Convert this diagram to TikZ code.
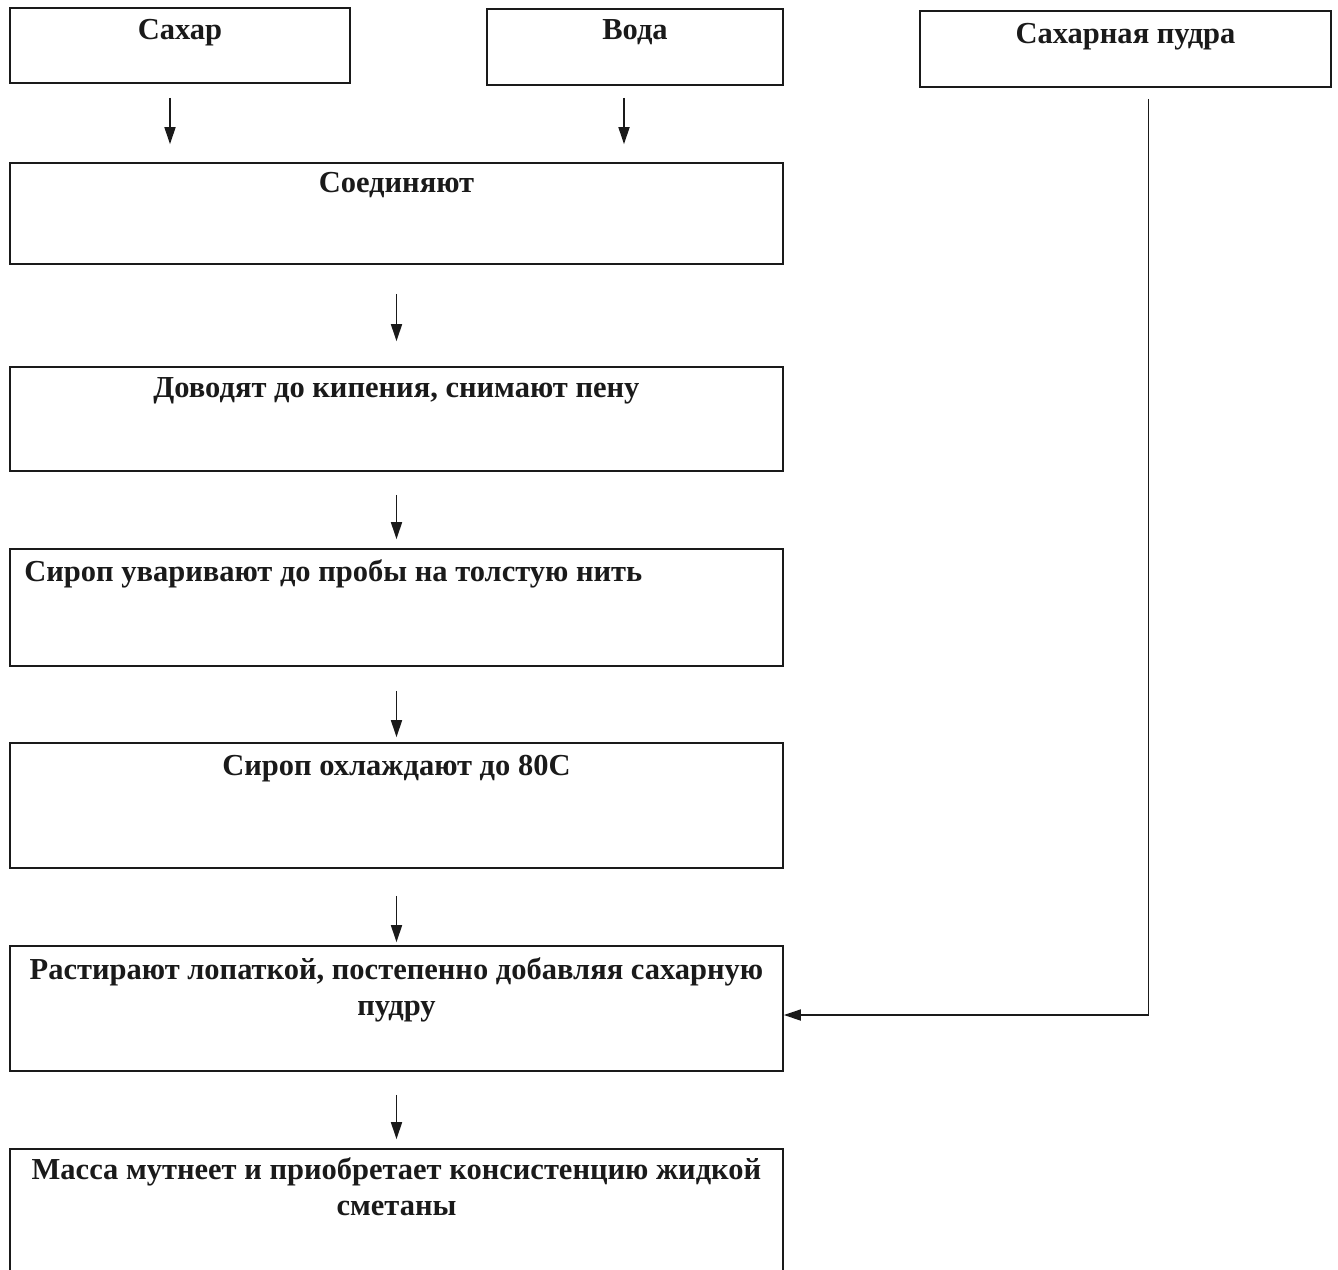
\documentclass[tikz,border=0pt]{standalone}
\usepackage{fontspec}
\setmainfont{Liberation Serif}
\usetikzlibrary{arrows.meta,positioning,calc}
\definecolor{ink}{HTML}{1A1A1A}

\begin{document}
\begin{tikzpicture}[
    x=1pt, y=-1pt,
    >={Triangle[length=17pt,width=11pt]},
    font=\fontsize{30.5}{36}\selectfont\bfseries,
    box/.style={draw=ink, line width=1.7pt, rectangle, inner sep=0pt},
    txt/.style={inner sep=0pt, anchor=base, text=ink, align=center},
    flow/.style={->, draw=ink, line width=1.7pt},
  ]
\clip (0,0) rectangle (1338,1269);

% raw materials
\node[box, minimum width=340pt, minimum height=75pt] (sugar) at (180,45.5) {};
\node[box, minimum width=296pt, minimum height=76pt] (water) at (635,47) {};
\node[box, minimum width=411pt, minimum height=76pt] (powder) at (1125.5,49) {};
\node[txt] (tsugar) at ($(sugar.north)+(0,32)$) {Сахар};
\node[txt] (twater) at ($(water.north)+(0,31)$) {Вода};
\node[txt] (tpowder) at ($(powder.north)+(0,33)$) {Сахарная пудра};

% process steps
\node[box, minimum width=773pt, minimum height=101pt] (join) at (396.5,213.5) {};
\node[box, minimum width=773pt, minimum height=104pt] (boil) at (396.5,419) {};
\node[box, minimum width=773pt, minimum height=117pt] (thread) at (396.5,607.5) {};
\node[box, minimum width=773pt, minimum height=125pt] (cool) at (396.5,805.5) {};
\node[box, minimum width=773pt, minimum height=125pt] (rub) at (396.5,1008.5) {};
\node[box, minimum width=773pt, minimum height=135pt] (mass) at (396.5,1216.5) {};

\node[txt] (tjoin) at ($(join.north)+(0,30)$) {Соединяют};
\node[txt] (tboil) at ($(boil.north)+(0,31)$) {Доводят до кипения, снимают пену};
\node[txt, anchor=base west] (tthread) at ($(thread.north west)+(15,33)$)
  {Сироп уваривают до пробы на толстую нить};
\node[txt] (tcool) at ($(cool.north)+(0,33)$) {Сироп охлаждают до 80С};
% two lines: base is the last line
\node[txt] (trub) at ($(rub.north)+(0,70)$)
  {Растирают лопаткой, постепенно добавляя сахарную\\пудру};
\node[txt] (tmass) at ($(mass.north)+(0,67)$)
  {Масса мутнеет и приобретает консистенцию жидкой\\сметаны};

% arrows into the first step
\draw[flow, shorten <=14pt, shorten >=18pt]
  ([xshift=-10pt]sugar.south) -- ([xshift=-10pt]sugar.south |- join.north);
\draw[flow, shorten <=12pt, shorten >=18pt]
  ([xshift=-11pt]water.south) -- ([xshift=-11pt]water.south |- join.north);

% arrows between the steps
\foreach \a/\b/\s/\e in {join/boil/29/25, boil/thread/23/9, thread/cool/24/5,
                         cool/rub/27/3, rub/mass/23/9}
  \draw[flow, shorten <=\s pt, shorten >=\e pt] (\a.south) -- (\b.north);

% powder goes in at the rubbing step
\draw[flow, shorten <=11pt] ([xshift=23pt]powder.south) |- ([yshift=-6.5pt]rub.east);

\end{tikzpicture}
\end{document}
